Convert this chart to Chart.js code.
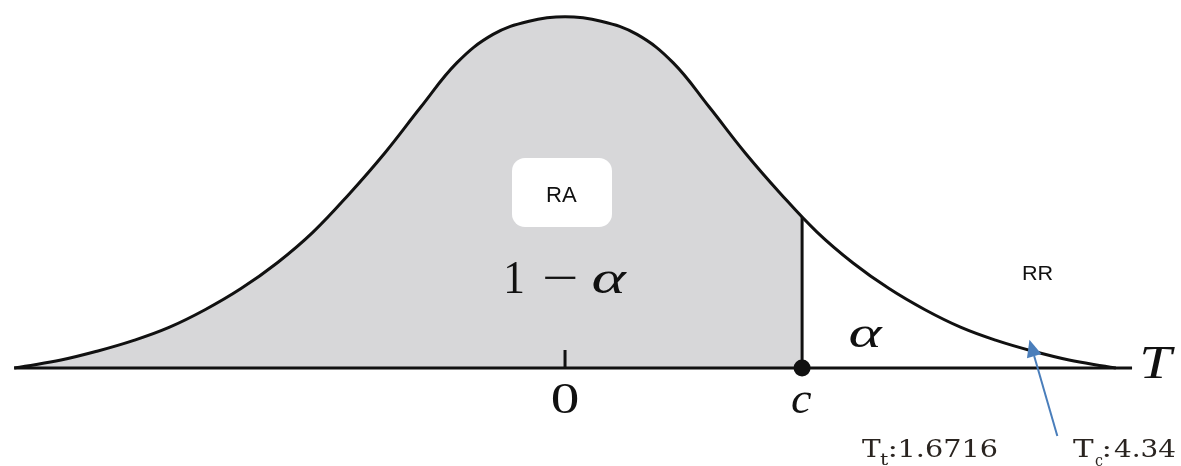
<!DOCTYPE html>
<html>
<head>
<meta charset="utf-8">
<script src="https://cdn.jsdelivr.net/npm/chart.js@4"></script>
<style>
  html, body { margin: 0; padding: 0; background: #ffffff; }
  #wrap { width: 1181px; height: 466px; }
</style>
</head>
<body>
<div id="wrap"><canvas id="c" width="1181" height="466"></canvas></div>
<script>
// Curve (t value, density height)
const tValues = [-3.06, -3.0, -2.8, -2.6, -2.4, -2.2, -2.0, -1.8, -1.6, -1.4, -1.2, -1.0, -0.8, -0.6, -0.4, -0.2, 0,
                 0.2, 0.4, 0.6, 0.8, 1.0, 1.2, 1.4, 1.6, 1.8, 2.0, 2.2, 2.4, 2.6, 2.8, 3.0, 3.06];
const density = [0, 0.002, 0.009, 0.019, 0.031, 0.046, 0.066, 0.090, 0.119, 0.154, 0.197, 0.244, 0.296, 0.346, 0.378, 0.393, 0.398,
                 0.393, 0.378, 0.346, 0.296, 0.244, 0.197, 0.154, 0.119, 0.090, 0.066, 0.046, 0.031, 0.019, 0.009, 0.002, 0];
const criticalValue = 1.317;       // "c"
const criticalDensity = 0.171;     // curve height at c
const axisStart = -3.06;
const axisEnd = 3.15;
const tickLabels = ["0", "c"];
const tickValues = [0, criticalValue];
const regionLabels = ["RA", "RR"];
const areaLabels = ["1 \u2212 \u03B1", "\u03B1"];
const axisName = "T";
const statLabels = [["T", "t", "1.6716"], ["T", "c", "4.34"]];

const curvePts = tValues.map((t, i) => ({ x: t, y: density[i] }));
const fillPts = curvePts.filter(p => p.x < criticalValue).concat([{ x: criticalValue, y: criticalDensity }]);

const SERIF = '"Liberation Serif", "Times New Roman", serif';
const SERIF2 = '"DejaVu Serif", "Liberation Serif", serif';
const SANS = '"Liberation Sans", Arial, sans-serif';

function fitText(ctx, txt, font, x0, x1, base, color) {
  ctx.save();
  ctx.font = font;
  ctx.fillStyle = color || '#111111';
  ctx.textAlign = 'left';
  ctx.textBaseline = 'alphabetic';
  const m = ctx.measureText(txt);
  const w = m.actualBoundingBoxLeft + m.actualBoundingBoxRight;
  const sx = (x1 - x0) / w;
  ctx.translate(x0, base);
  ctx.scale(sx, 1);
  ctx.fillText(txt, m.actualBoundingBoxLeft, 0);
  ctx.restore();
}

const annotations = {
  id: 'annotations',
  afterDatasetsDraw(chart) {
    const ctx = chart.ctx;
    const xs = chart.scales.x, ys = chart.scales.y;
    const base = ys.getPixelForValue(0);
    const x0 = xs.getPixelForValue(tickValues[0]);
    const xc = xs.getPixelForValue(tickValues[1]);

    // tick at 0
    ctx.save();
    ctx.strokeStyle = '#111111';
    ctx.lineWidth = 3;
    ctx.beginPath();
    ctx.moveTo(x0, base);
    ctx.lineTo(x0, base - 18);
    ctx.stroke();
    ctx.restore();

    // tick labels
    fitText(ctx, tickLabels[0], '44px ' + SERIF, x0 - 13, x0 + 13, base + 45);
    fitText(ctx, tickLabels[1], 'italic 44px ' + SERIF, xc - 10, xc + 10, base + 45);

    // RA box
    ctx.save();
    ctx.fillStyle = '#ffffff';
    ctx.beginPath();
    ctx.roundRect(512, 158, 100, 69, 13);
    ctx.fill();
    ctx.restore();
    fitText(ctx, regionLabels[0], '22px ' + SANS, 547, 577, 202, '#111111');
    fitText(ctx, regionLabels[1], '21px ' + SANS, 1023, 1053, 280, '#111111');

    // 1 - alpha
    const parts = areaLabels[0].split(' ');
    fitText(ctx, parts[0], '46px ' + SERIF, 507, 523, 293);
    fitText(ctx, parts[1], '46px ' + SERIF, 545, 576, 293);
    fitText(ctx, parts[2], 'italic 46px ' + SERIF, 593, 627, 293);
    // alpha
    fitText(ctx, areaLabels[1], 'italic 44px ' + SERIF, 850, 883, 347);
    // T axis name
    fitText(ctx, axisName, 'italic 47px ' + SERIF, 1143, 1175, 378);

    // statistics
    const col = '#2a2420';
    const s1 = statLabels[0];
    fitText(ctx, s1[0], '25px ' + SERIF2, 862, 881, 457, col);
    fitText(ctx, s1[1], '16px ' + SERIF2, 880, 889, 465, col);
    fitText(ctx, ':', '25px ' + SERIF2, 890, 895, 457, col);
    fitText(ctx, s1[2], '25px ' + SERIF2, 901, 997, 457, col);
    const s2 = statLabels[1];
    fitText(ctx, s2[0], '25px ' + SERIF2, 1073, 1094, 457, col);
    fitText(ctx, s2[1], '16px ' + SERIF2, 1095, 1103, 466, col);
    fitText(ctx, ':', '25px ' + SERIF2, 1104, 1109, 457, col);
    fitText(ctx, s2[2], '25px ' + SERIF2, 1114, 1175, 457, col);

    // arrow pointing to the curve
    const tipX = xs.getPixelForValue(2.58), tipY = ys.getPixelForValue(0.032);
    const tailX = xs.getPixelForValue(2.735), tailY = ys.getPixelForValue(-0.077);
    const ang = Math.atan2(tipY - tailY, tipX - tailX);
    const hl = 17, hw = 7.5;
    const bx = tipX - hl * Math.cos(ang), by = tipY - hl * Math.sin(ang);
    ctx.save();
    ctx.strokeStyle = '#4a7ebb';
    ctx.fillStyle = '#4a7ebb';
    ctx.lineWidth = 2;
    ctx.beginPath();
    ctx.moveTo(tailX, tailY);
    ctx.lineTo(bx, by);
    ctx.stroke();
    ctx.beginPath();
    ctx.moveTo(tipX, tipY);
    ctx.lineTo(bx + hw * Math.sin(ang), by - hw * Math.cos(ang));
    ctx.lineTo(bx - hw * Math.sin(ang), by + hw * Math.cos(ang));
    ctx.closePath();
    ctx.fill();
    ctx.restore();
  }
};

new Chart(document.getElementById('c'), {
  type: 'scatter',
  data: {
    datasets: [
      { data: fillPts, showLine: true, fill: 'origin', backgroundColor: '#d7d7d9', borderWidth: 0,
        pointRadius: 0, tension: 0.4, order: 5, clip: false },
      { data: [{ x: axisStart, y: 0 }, { x: axisEnd, y: 0 }], showLine: true, borderColor: '#111111',
        borderWidth: 3, pointRadius: 0, order: 4, clip: false },
      { data: curvePts, showLine: true, borderColor: '#111111', borderWidth: 3, pointRadius: 0,
        tension: 0.4, order: 3, clip: false },
      { data: [{ x: criticalValue, y: 0 }, { x: criticalValue, y: criticalDensity }], showLine: true,
        borderColor: '#111111', borderWidth: 3, pointRadius: 0, order: 2, clip: false },
      { data: [{ x: criticalValue, y: 0 }], showLine: false, pointRadius: 8.5, pointBackgroundColor: '#111111',
        pointBorderWidth: 0, order: 1, clip: false }
    ]
  },
  options: {
    responsive: false,
    animation: false,
    layout: { autoPadding: false, padding: { left: 0, right: 0, top: 0, bottom: 98 } },
    plugins: { legend: { display: false }, tooltip: { enabled: false } },
    scales: {
      x: { type: 'linear', min: -3.139, max: 3.422, display: false },
      y: { type: 'linear', min: 0, max: 0.417, display: false }
    }
  },
  plugins: [annotations]
});
</script>
</body>
</html>
